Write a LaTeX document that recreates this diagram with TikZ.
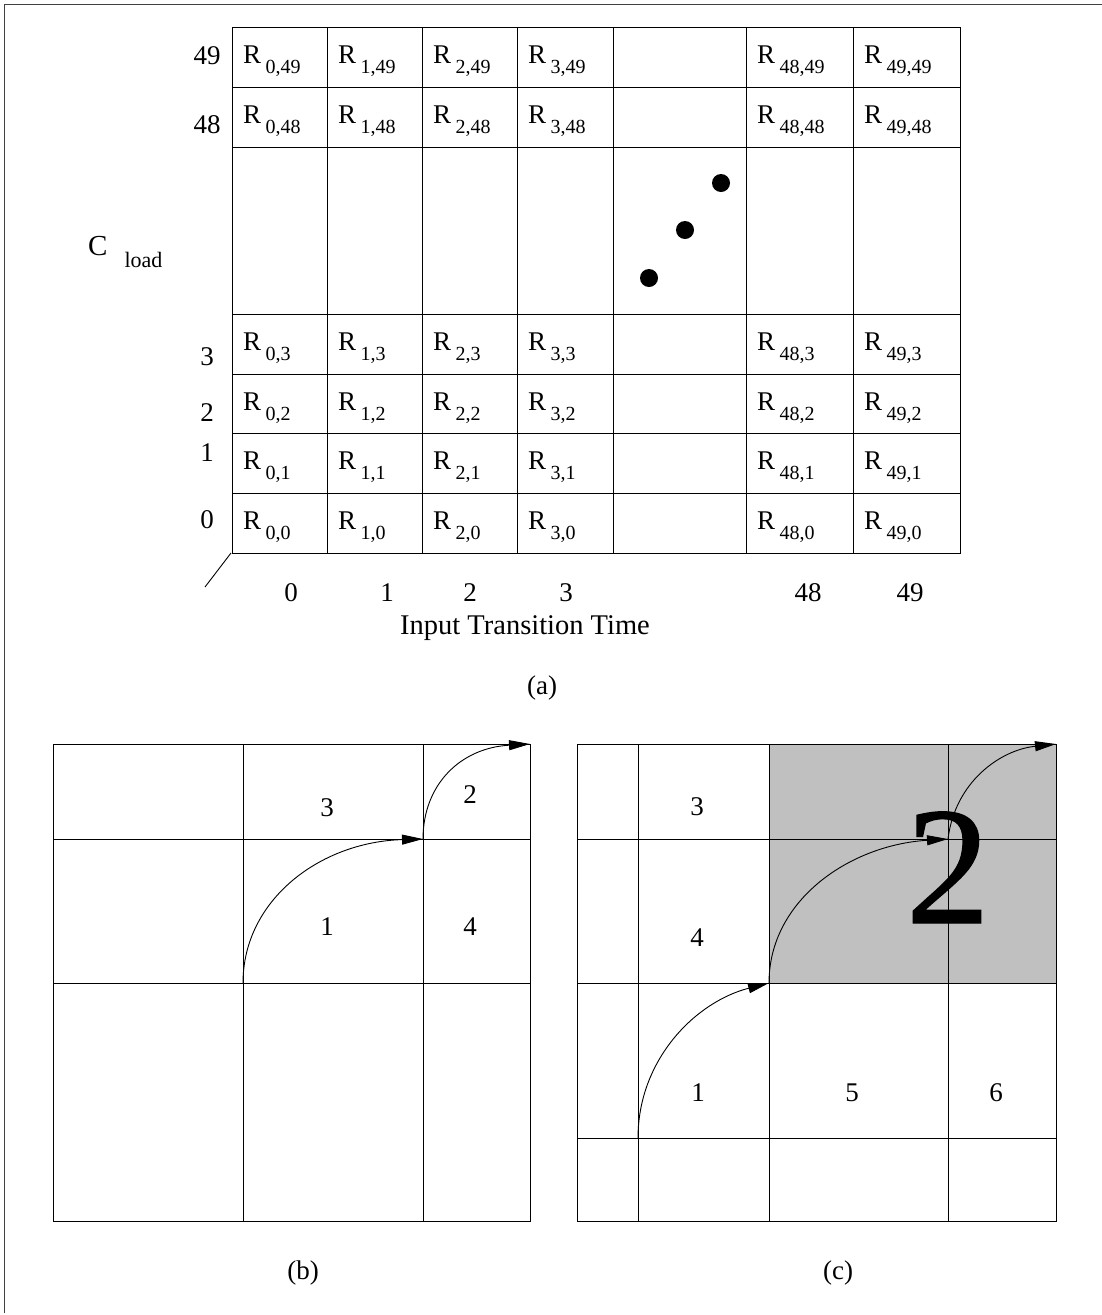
\documentclass[tikz,border=0pt]{standalone}
\usepackage{fontspec}
\setmainfont{Liberation Serif}
\newfontfamily\heavyserif[FakeBold=0.8]{Liberation Serif}
\usetikzlibrary{arrows.meta}
\definecolor{panelgray}{RGB}{192,192,192}
\newcommand{\subf}{\fontsize{20}{20}\selectfont}
\begin{document}
\begin{tikzpicture}[x=1pt,y=-1pt,
  gridl/.style={line width=1pt,black},
  framel/.style={line width=1.4pt,black!75},
  rcell/.style={anchor=base west,inner sep=0pt,font=\fontsize{27}{27}\selectfont},
  lbl/.style={inner sep=0pt,font=\fontsize{27}{27}\selectfont},
  dot/.style={circle,fill=black,inner sep=0pt,minimum size=18pt},
  arr/.style={line width=0.9pt,-{Triangle[length=21pt,width=10pt]}}]
\useasboundingbox (0,0) rectangle (1102,1315);
% outer frame (left and top)
\draw[framel] (4.5,1313) -- (4.5,4.5) -- (1102,4.5);
% ---------------- (a) ----------------
\draw[gridl] (232,27) rectangle (960,553);
\foreach \x in {327,422,517,613,746,853} \draw[gridl] (\x,27) -- (\x,553);
\foreach \y in {87,147,314,374,433,493} \draw[gridl] (232,\y) -- (960,\y);
\foreach \cx/\ci in {232/0,327/1,422/2,517/3,746/48,853/49}
  \foreach \ry/\rj in {27/49,87/48,314/3,374/2,433/1,493/0}
    \node[rcell] (r\ci-\rj) at (\cx+11,\ry+36) {R\,\raisebox{-10pt}{\subf\ci,\rj}};
\node[dot] (d1) at (649,278) {};
\node[dot] (d2) at (685,230) {};
\node[dot] (d3) at (721,183) {};
% row labels
\node[lbl] (y49) at (207,56) {49};
\node[lbl] (y48) at (207,125) {48};
\node[lbl] (y3) at (207,357) {3};
\node[lbl] (y2) at (207,413) {2};
\node[lbl] (y1) at (207,453) {1};
\node[lbl] (y0) at (207,520) {0};
\node[anchor=base west,inner sep=0pt,font=\fontsize{29}{29}\selectfont] (cload) at (88,255)
  {C\hspace{17pt}\raisebox{-12.5pt}{\fontsize{22}{22}\selectfont load}};
% column labels
\node[lbl] (x0) at (291,593) {0};
\node[lbl] (x1) at (387,593) {1};
\node[lbl] (x2) at (470,593) {2};
\node[lbl] (x3) at (566,593) {3};
\node[lbl] (x48) at (808,593) {48};
\node[lbl] (x49) at (910,593) {49};
\node[inner sep=0pt,font=\fontsize{28.5}{28.5}\selectfont] (xtitle) at (525,628) {Input Transition Time};
\node[lbl] (capa) at (542,688) {(a)};
\coordinate (corner) at (231,553);
\coordinate (tickend) at (205,587);
\draw[line width=0.9pt] (corner) -- (tickend);
% ---------------- (b) ----------------
\draw[gridl] (53,744) rectangle (530,1221);
\foreach \x in {243,423} \draw[gridl] (\x,744) -- (\x,1221);
\foreach \y in {839,983} \draw[gridl] (53,\y) -- (530,\y);
\node[lbl] (b3) at (327,808) {3};
\node[lbl] (b2) at (470,795) {2};
\node[lbl] (b1) at (327,927) {1};
\node[lbl] (b4) at (470,927) {4};
\coordinate (bA) at (243,983);
\coordinate (bB) at (423,839);
\coordinate (bC) at (530,744);
\draw[arr] (bA) .. controls (243,900) and (320,842) .. (bB);
\draw[arr] (bB) .. controls (423,785) and (460,748) .. (bC);
\node[lbl] (capb) at (303,1273) {(b)};
% ---------------- (c) ----------------
\fill[panelgray] (769,744) rectangle (1056,983);
\draw[gridl] (577,744) rectangle (1056,1221);
\foreach \x in {638,769,948} \draw[gridl] (\x,744) -- (\x,1221);
\foreach \y in {839,983,1138} \draw[gridl] (577,\y) -- (1056,\y);
\node[lbl] (c3) at (697,807) {3};
\node[lbl] (c4) at (697,938) {4};
\node[lbl] (c1) at (698,1093) {1};
\node[lbl] (c5) at (852,1093) {5};
\node[lbl] (c6) at (996,1093) {6};
\node[anchor=base,inner sep=0pt,font=\heavyserif\fontsize{168}{168}\selectfont] (big2) at (948,923) {2};
\coordinate (cA) at (638,1138);
\coordinate (cB) at (769,983);
\coordinate (cC) at (948,839);
\coordinate (cD) at (1056,744);
\draw[arr] (cA) .. controls (638,1060) and (695,1002) .. (cB);
\draw[arr] (cB) .. controls (769,900) and (850,845) .. (cC);
\draw[arr] (cC) .. controls (955,782) and (1000,750) .. (cD);
\node[lbl] (capc) at (838,1273) {(c)};
\end{tikzpicture}
\end{document}
